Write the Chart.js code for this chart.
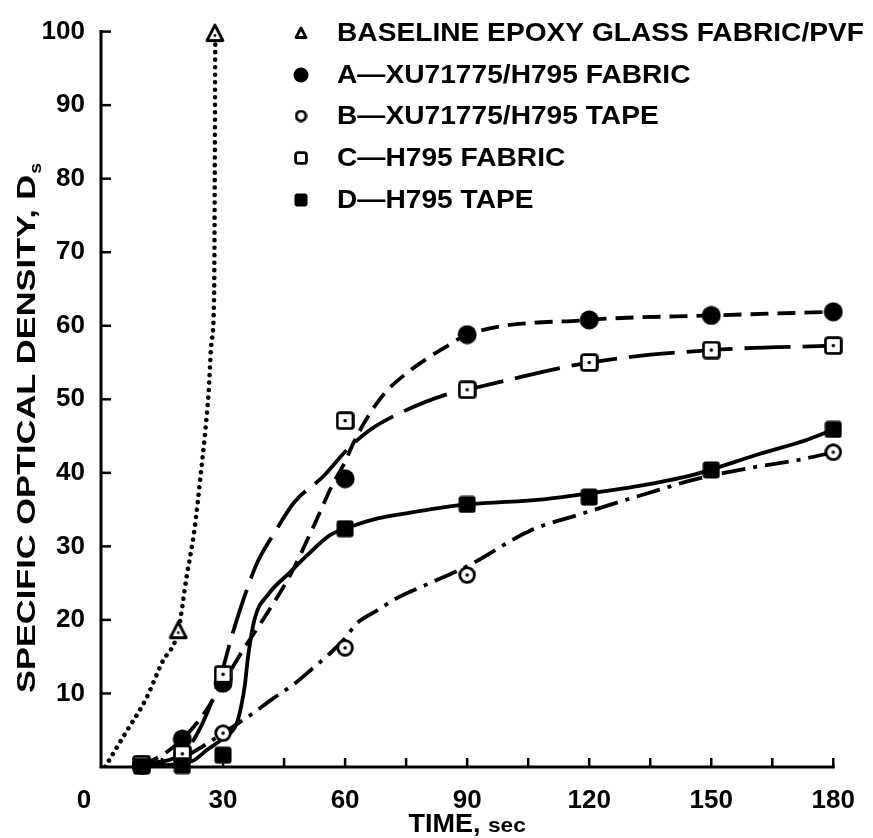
<!DOCTYPE html>
<html><head><meta charset="utf-8">
<script src="https://cdn.jsdelivr.net/npm/chart.js@4/dist/chart.umd.min.js"></script>
<style>html,body{margin:0;padding:0;background:#fff;}</style>
</head><body>
<canvas id="c" width="873" height="838"></canvas>
<script>
// ---- tick labels & names ----
const xTickLabels = [0, 30, 60, 90, 120, 150, 180];
const xMinorTicks = [15, 45, 75, 105, 135, 165];
const yTickLabels = [10, 20, 30, 40, 50, 60, 70, 80, 90, 100];
const seriesNames = ['BASELINE EPOXY GLASS FABRIC/PVF', 'A\u2014XU71775/H795 FABRIC', 'B\u2014XU71775/H795 TAPE', 'C\u2014H795 FABRIC', 'D\u2014H795 TAPE'];

// ---- measured points (markers) ----
const baseTime = [19, 28];
const baseDs = [18.6, 99.8];
const aTime = [10, 20, 30, 60, 90, 120, 150, 180];
const aDs = [0.3, 3.8, 11.4, 39.2, 58.8, 60.8, 61.4, 61.9];
const bTime = [10, 20, 30, 60, 90, 180];
const bDs = [0.2, 1.3, 4.6, 16.2, 26.1, 42.8];
const cTime = [10, 20, 30, 60, 90, 120, 150, 180];
const cDs = [0.4, 1.8, 12.6, 47.1, 51.3, 55.0, 56.7, 57.3];
const dTime = [10, 20, 30, 60, 90, 120, 150, 180];
const dDs = [0.1, 0.2, 1.6, 32.4, 35.7, 36.7, 40.4, 45.9];

// ---- curves ----
const baseCurveT = [1, 6, 11, 15, 19, 21, 23, 24.5, 25.6, 26.4, 27.2, 27.8, 28.1];
const baseCurveD = [0, 4.6, 9.2, 14.2, 18.6, 25.7, 32.4, 39.7, 45.5, 50.5, 58, 64, 100];
const aCurveT = [10, 15, 20, 25, 30, 35, 40, 46.5, 52.4, 57, 60, 62, 66, 70, 75, 80, 85, 90, 120, 150, 180];
const aCurveD = [0.3, 1.6, 3.8, 7.0, 11.4, 16.0, 20.2, 26.1, 32.9, 38.5, 41.5, 44.0, 48.0, 51.0, 53.5, 55.5, 57.2, 58.8, 60.8, 61.4, 61.9];
const bCurveT = [10, 20, 25, 30, 36.6, 42, 47.5, 52, 56.2, 60, 62.8, 67.6, 72.5, 80, 90, 105.7, 116.8, 134.8, 146, 159.8, 171.9, 180];
const bCurveD = [0.2, 1.3, 2.8, 4.6, 7.0, 9.2, 11.3, 13.4, 15.4, 17.5, 19.5, 21.2, 22.9, 24.8, 27.3, 32.2, 34.2, 37.3, 39.1, 40.7, 41.8, 42.8];
const cCurveT = [10, 20, 25, 29.6, 32, 35.4, 38.5, 42.7, 47.5, 54.8, 60.4, 66, 73, 84.6, 90, 120, 150, 180];
const cCurveD = [0.4, 1.8, 6.0, 12.7, 17.5, 23.4, 27.9, 31.9, 36.0, 39.6, 43.1, 45.8, 48.0, 50.6, 51.3, 55.0, 56.7, 57.3];
const dCurveT = [10, 15, 20, 22.8, 26, 30, 33.2, 34.4, 35.4, 36.1, 37.8, 41, 46.5, 50.7, 56.2, 60, 62, 68, 75, 80.5, 90, 108.8, 120, 133, 146, 161.4, 173.6, 180];
const dCurveD = [0, 0.2, 0.5, 0.9, 2.3, 3.9, 5.7, 8.1, 11.3, 14.8, 20.2, 23.4, 26.5, 28.8, 31.5, 32.4, 32.8, 33.8, 34.5, 35.0, 35.7, 36.4, 37.2, 38.3, 39.8, 42.5, 44.5, 45.9];

const FONT = "'Liberation Sans', Arial, Helvetica, sans-serif";

// ---- marker images ----
function mk(size, draw) {
  const c = document.createElement('canvas');
  c.width = size; c.height = size;
  const g = c.getContext('2d');
  draw(g, size);
  return c;
}
function triangle(s, dot) {
  return mk(s, (g, s) => {
    g.lineWidth = 2.8; g.strokeStyle = '#000'; g.fillStyle = '#fff'; g.lineJoin = 'round';
    g.beginPath(); g.moveTo(s / 2, 2); g.lineTo(s - 2, s - 2.5); g.lineTo(2, s - 2.5); g.closePath();
    g.fill(); g.stroke();
    if (dot) { g.fillStyle = '#000'; g.beginPath(); g.arc(s / 2, s * 0.62, 1.4, 0, Math.PI * 2); g.fill(); }
  });
}
function filledCircle(s) {
  return mk(s, (g, s) => { g.fillStyle = '#000'; g.beginPath(); g.arc(s / 2, s / 2, s / 2 - 0.5, 0, Math.PI * 2); g.fill(); });
}
function openCircle(s, dot) {
  return mk(s, (g, s) => {
    g.lineWidth = 2.8; g.strokeStyle = '#000'; g.fillStyle = '#fff';
    g.beginPath(); g.arc(s / 2, s / 2, s / 2 - 1.7, 0, Math.PI * 2); g.fill(); g.stroke();
    if (dot) { g.fillStyle = '#000'; g.beginPath(); g.arc(s / 2, s / 2, 1.8, 0, Math.PI * 2); g.fill(); }
  });
}
function openSquare(s, dot) {
  return mk(s, (g, s) => {
    g.lineWidth = 2.8; g.strokeStyle = '#000'; g.fillStyle = '#fff';
    g.beginPath(); g.roundRect(1.6, 1.6, s - 3.2, s - 3.2, 2.5); g.fill(); g.stroke();
    if (dot) { g.fillStyle = '#000'; g.beginPath(); g.arc(s / 2, s / 2, 1.8, 0, Math.PI * 2); g.fill(); }
  });
}
function filledSquare(s) {
  return mk(s, (g, s) => { g.fillStyle = '#000'; g.beginPath(); g.roundRect(0.5, 0.5, s - 1, s - 1, 3); g.fill(); });
}

const plotMarks = [triangle(20, true), filledCircle(20), openCircle(18, true), openSquare(19, true), filledSquare(18)];
const legendMarks = [triangle(14, false), filledCircle(16), openCircle(13, false), openSquare(14, false), filledSquare(14)];

const pts = (t, d) => t.map((x, i) => ({ x: x, y: d[i] }));

function curve(t, d, dash, cap, width) {
  return {
    type: 'line', data: pts(t, d), borderColor: '#000', borderWidth: width || 3.8,
    borderDash: dash || [], borderCapStyle: cap || 'butt', borderJoinStyle: 'round',
    pointRadius: 0, fill: false, cubicInterpolationMode: 'monotone', order: 2
  };
}
function marks(t, d, idx) {
  return {
    type: 'scatter', label: seriesNames[idx], data: pts(t, d), pointStyle: plotMarks[idx],
    pointRadius: 9, showLine: false, clip: false, order: 1 - idx * 0.01,
    backgroundColor: '#000', borderColor: '#000'
  };
}

const datasets = [
  curve(baseCurveT, baseCurveD, [0.01, 7.5], 'round', 4.6),
  curve(aCurveT, aCurveD, [18, 9]),
  curve(bCurveT, bCurveD, [24, 8, 4, 8]),
  curve(cCurveT, cCurveD, [46, 12]),
  curve(dCurveT, dCurveD, null),
  marks(baseTime, baseDs, 0),
  marks(aTime, aDs, 1),
  marks(bTime, bDs, 2),
  marks(cTime, cDs, 3),
  marks(dTime, dDs, 4)
];

function stretchText(ctx, text, x, y, target) {
  const w = ctx.measureText(text).width;
  ctx.save();
  ctx.translate(x, y);
  ctx.scale(target / w, 1);
  ctx.textAlign = 'left';
  ctx.fillText(text, 0, 0);
  ctx.restore();
}

const decor = {
  id: 'decor',
  beforeDatasetsDraw(chart) {
    const ctx = chart.ctx, xs = chart.scales.x, ys = chart.scales.y;
    const x0 = xs.getPixelForValue(0), x1 = xs.getPixelForValue(180);
    const y0 = ys.getPixelForValue(0), y1 = ys.getPixelForValue(100);
    ctx.save();
    ctx.strokeStyle = '#000'; ctx.lineWidth = 3; ctx.lineCap = 'square';
    ctx.beginPath(); ctx.moveTo(x0, y1); ctx.lineTo(x0, y0); ctx.lineTo(x1, y0); ctx.stroke();
    ctx.lineWidth = 2.5; ctx.lineCap = 'butt';
    yTickLabels.forEach(v => { const p = ys.getPixelForValue(v); ctx.beginPath(); ctx.moveTo(x0, p); ctx.lineTo(x0 + 10, p); ctx.stroke(); });
    xTickLabels.concat(xMinorTicks).forEach(v => { if (v === 0) return; const p = xs.getPixelForValue(v); ctx.beginPath(); ctx.moveTo(p, y0); ctx.lineTo(p, y0 - 9); ctx.stroke(); });
    ctx.restore();
  },
  afterDraw(chart) {
    const ctx = chart.ctx, xs = chart.scales.x;
    ctx.save();
    ctx.fillStyle = '#000';
    // origin label
    ctx.font = 'bold 26px ' + FONT;
    ctx.textAlign = 'center'; ctx.textBaseline = 'middle';
    ctx.fillText('0', xs.getPixelForValue(0) - 17, 801);
    ctx.textAlign = 'left';
    // x title
    ctx.textBaseline = 'alphabetic';
    const xc = (xs.getPixelForValue(0) + xs.getPixelForValue(180)) / 2;
    ctx.font = 'bold 25px ' + FONT;
    const w1 = ctx.measureText('TIME, ').width * 1.08;
    ctx.font = 'bold 21px ' + FONT;
    const w2 = ctx.measureText('sec').width * 1.08;
    const sx0 = xc - (w1 + w2) / 2;
    ctx.font = 'bold 25px ' + FONT;
    stretchText(ctx, 'TIME, ', sx0, 832, w1);
    ctx.font = 'bold 21px ' + FONT;
    stretchText(ctx, 'sec', sx0 + w1, 832, w2);
    // y title (rotated) with subscript
    ctx.save();
    ctx.translate(35, 428);
    ctx.rotate(-Math.PI / 2);
    ctx.textAlign = 'left';
    ctx.textBaseline = 'alphabetic';
    ctx.font = 'bold 26px ' + FONT;
    const main = 'SPECIFIC OPTICAL DENSITY, D';
    const mw = ctx.measureText(main).width;
    ctx.font = 'bold 17px ' + FONT;
    const subw = ctx.measureText('s').width * 1.15;
    const total = 530;
    const sxy = (total - subw - 1) / mw;
    ctx.font = 'bold 26px ' + FONT;
    ctx.save(); ctx.translate(-total / 2, 0); ctx.scale(sxy, 1); ctx.fillText(main, 0, 0); ctx.restore();
    ctx.font = 'bold 17px ' + FONT;
    ctx.save(); ctx.translate(-total / 2 + mw * sxy + 1, 6); ctx.scale(1.15, 1); ctx.fillText('s', 0, 0); ctx.restore();
    ctx.restore();
    // legend
    const rows = [33, 75, 116, 158, 200];
    ctx.font = 'bold 26px ' + FONT;
    ctx.textBaseline = 'middle';
    const factor = 527 / ctx.measureText(seriesNames[0]).width;
    seriesNames.forEach((name, i) => {
      const img = legendMarks[i];
      ctx.drawImage(img, 301 - img.width / 2, rows[i] - img.height / 2);
      stretchText(ctx, name, 337, rows[i] + 1, ctx.measureText(name).width * factor);
    });
    ctx.restore();
  }
};

new Chart(document.getElementById('c'), {
  data: { datasets: datasets },
  options: {
    responsive: false, animation: false, devicePixelRatio: 1,
    layout: { padding: { top: 25, right: 30, left: 0, bottom: 0 } },
    plugins: { legend: { display: false }, tooltip: { enabled: false } },
    scales: {
      x: {
        type: 'linear', min: 0, max: 180,
        grid: { display: false, drawTicks: false }, border: { display: false },
        afterBuildTicks: s => { s.ticks = xTickLabels.map(v => ({ value: v })); },
        afterFit: s => { s.height = 71; },
        ticks: { font: { family: FONT, size: 26, weight: 'bold' }, color: '#000', padding: 18, maxRotation: 0, autoSkip: false,
          callback: v => (v === 0 ? '' : String(v)) }
      },
      y: {
        type: 'linear', min: 0, max: 100,
        grid: { display: false, drawTicks: false }, border: { display: false },
        afterBuildTicks: s => { s.ticks = yTickLabels.map(v => ({ value: v })); },
        afterFit: s => { s.width = 101; },
        ticks: { font: { family: FONT, size: 26, weight: 'bold' }, color: '#000', padding: 16, autoSkip: false }
      }
    }
  },
  plugins: [decor]
});
</script>
</body></html>
